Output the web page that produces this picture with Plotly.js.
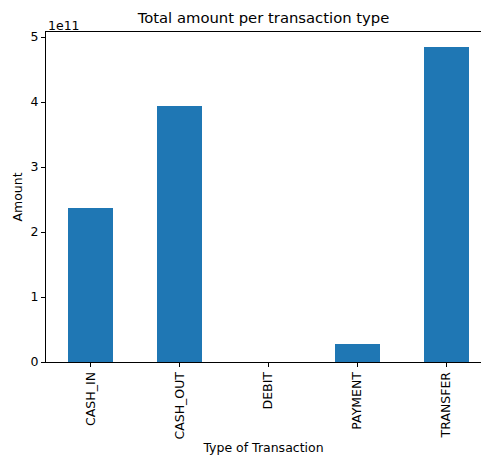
<!DOCTYPE html>
<html>
<head>
<meta charset="utf-8">
<script src="https://cdn.plot.ly/plotly-3.0.1.min.js"></script>
<style>
  html, body { margin: 0; padding: 0; background: #fff; }
  #chart { width: 481px; height: 455px; }
</style>
</head>
<body>
<div id="chart"></div>
<script>
// Total amount moved per transaction type
const transactionTypes = ['CASH_IN', 'CASH_OUT', 'DEBIT', 'PAYMENT', 'TRANSFER'];
const totalAmounts = [2.3637e11, 3.9441e11, 2.27e8, 2.809e10, 4.8529e11];

// y-axis ticks shown in units of 1e11
const yTickUnits = [0, 1, 2, 3, 4, 5];
const yTickLabels = ['0', '1', '2', '3', '4', '5'];

const font = 'DejaVu Sans, sans-serif';

const trace = {
  type: 'bar',
  x: transactionTypes.map((_, i) => i),
  y: totalAmounts,
  width: 0.5,
  marker: { color: '#1f77b4' },
  hoverinfo: 'x+y'
};

const layout = {
  width: 481,
  height: 455,
  margin: { l: 46, r: 0, t: 31.5, b: 93, pad: 0 },
  paper_bgcolor: '#ffffff',
  plot_bgcolor: '#ffffff',
  showlegend: false,
  bargap: 0,
  font: { family: font, color: '#000000', size: 12.5 },
  title: {
    text: 'Total amount per transaction type',
    font: { family: font, size: 14.8, color: '#000000' },
    x: 0.5, xref: 'paper', xanchor: 'center',
    y: 1, yref: 'paper', yanchor: 'bottom', pad: { b: 9 }
  },
  xaxis: {
    range: [-0.5, 4.39],
    tickmode: 'array',
    tickvals: transactionTypes.map((_, i) => i),
    ticktext: transactionTypes,
    tickangle: -90,
    ticks: 'outside',
    ticklen: 4,
    tickwidth: 1,
    tickcolor: '#000000',
    showline: true,
    linecolor: '#000000',
    linewidth: 1,
    mirror: true,
    showgrid: false,
    zeroline: false,
    tickfont: { family: font, size: 12.5, color: '#000000' },
    title: {
      text: 'Type of Transaction',
      font: { family: font, size: 12.5, color: '#000000' },
      standoff: 4
    },
    automargin: false,
    fixedrange: true
  },
  yaxis: {
    range: [0, 5.077e11],
    tickmode: 'array',
    tickvals: yTickUnits.map(v => v * 1e11),
    ticktext: yTickLabels,
    ticks: 'outside',
    ticklen: 4,
    tickwidth: 1,
    tickcolor: '#000000',
    showline: true,
    linecolor: '#000000',
    linewidth: 1,
    showgrid: false,
    zeroline: false,
    tickfont: { family: font, size: 12.5, color: '#000000' },
    title: {
      text: 'Amount',
      font: { family: font, size: 12.5, color: '#000000' },
      standoff: 5
    },
    automargin: false,
    fixedrange: true
  },
  annotations: [{
    text: '1e11',
    xref: 'paper', yref: 'paper',
    x: 0, y: 1,
    xanchor: 'left', yanchor: 'bottom',
    showarrow: false,
    yshift: -3,
    font: { family: font, size: 12.5, color: '#000000' }
  }]
};

Plotly.newPlot('chart', [trace], layout, { displayModeBar: false, staticPlot: true });
</script>
</body>
</html>
